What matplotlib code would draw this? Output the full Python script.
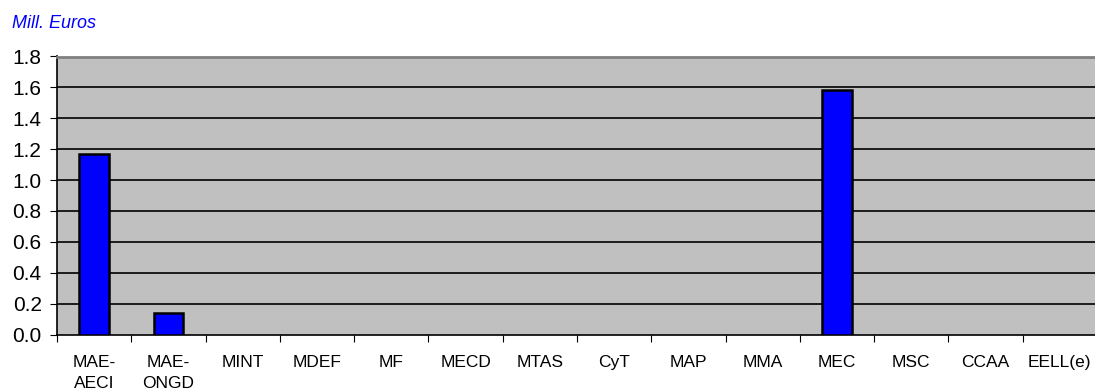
import matplotlib
matplotlib.use("Agg")
import matplotlib.pyplot as plt
import numpy as np

plt.rcParams['font.family'] = ['Liberation Sans', 'DejaVu Sans']

# categories and values (Mill. Euros)
categories = ["MAE-\nAECI", "MAE-\nONGD", "MINT", "MDEF", "MF", "MECD", "MTAS",
              "CyT", "MAP", "MMA", "MEC", "MSC", "CCAA", "EELL(e)"]
values = [1.17, 0.14, 0, 0, 0, 0, 0, 0, 0, 0, 1.58, 0, 0, 0]
yticks = [0.0, 0.2, 0.4, 0.6, 0.8, 1.0, 1.2, 1.4, 1.6, 1.8]

fig = plt.figure(figsize=(10.95, 3.89), dpi=100)
# plot area runs just past the right edge of the picture
ax = fig.add_axes([57 / 1095, 1 - 334.5 / 389, (1097 - 57) / 1095, (334.5 - 56.5) / 389])
ax.set_facecolor("#c0c0c0")

x = np.arange(len(categories))
vals = np.array(values)
nz = vals > 0
ax.bar(x[nz], vals[nz], width=0.4, color="#0000ff", edgecolor="black", linewidth=1.8, zorder=3)

ax.set_xlim(-0.5, len(categories) - 0.5)
ax.set_ylim(0, 1.8)
ax.set_yticks(yticks)
ax.set_yticklabels(["%.1f" % v for v in yticks], fontsize=15)
for v in yticks[1:-1]:
    ax.axhline(v, color="black", linewidth=1.2, zorder=1)

# category labels between the boundary ticks
ax.set_xticks(np.arange(len(categories) + 1) - 0.5)
ax.set_xticklabels([])
ax.set_xticks(x, minor=True)
ax.set_xticklabels(categories, minor=True, fontsize=12.5, va="top", linespacing=1.45)
ax.tick_params(axis="x", which="minor", length=0, pad=15)
ax.tick_params(axis="x", which="major", length=5, color="black")
ax.tick_params(axis="y", length=5, pad=6)

for side in ["top", "right"]:
    ax.spines[side].set_color("#808080")
    ax.spines[side].set_linewidth(2)
ax.spines["left"].set_color("black")
ax.spines["bottom"].set_color("black")
ax.spines["left"].set_linewidth(1.2)
ax.spines["bottom"].set_linewidth(1.2)

fig.text(12 / 1095, 1 - 28 / 389, "Mill. Euros", color="#0000ff", style="italic",
         fontsize=13, va="baseline")

fig.savefig("out.png", dpi=100)
